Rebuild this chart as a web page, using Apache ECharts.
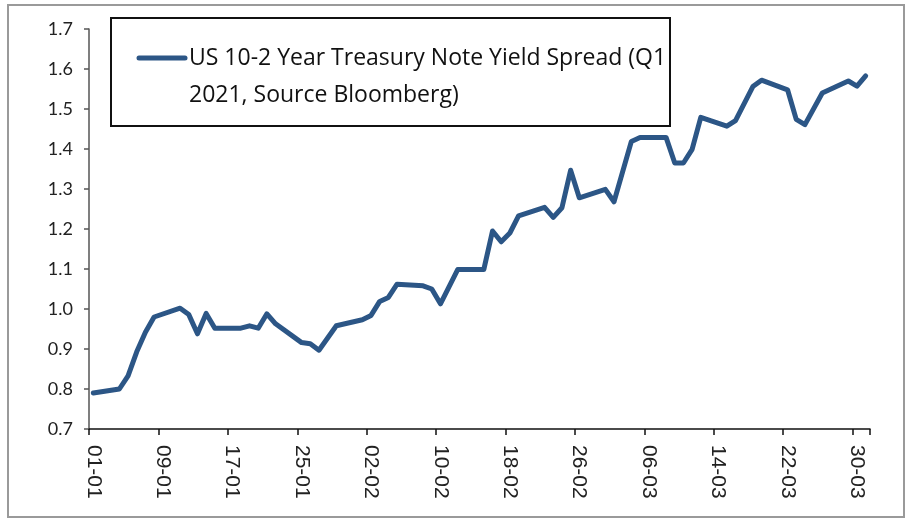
<!DOCTYPE html>
<html>
<head>
<meta charset="utf-8">
<script src="https://cdn.jsdelivr.net/npm/echarts@6/dist/echarts.min.js"></script>
<style>
html,body{margin:0;padding:0;background:#fff;}
#chart{width:909px;height:520px;}
</style>
</head>
<body>
<div id="chart"></div>
<script>
// Trading dates (dd-mm, 2021) and the 10-2 spread values
var tradeDates = ['01-01','04-01','05-01','06-01','07-01','08-01','11-01','12-01','13-01','14-01','15-01',
  '18-01','19-01','20-01','21-01','22-01','25-01','26-01','27-01','29-01',
  '01-02','02-02','03-02','04-02','05-02','08-02','09-02','10-02','12-02','15-02','16-02','17-02','18-02','19-02',
  '22-02','23-02','24-02','25-02','26-02',
  '01-03','02-03','04-03','05-03','08-03','09-03','10-03','11-03','12-03','15-03','16-03','18-03','19-03',
  '22-03','23-03','24-03','26-03','29-03','30-03','31-03'];
var spreadValues = [0.790,0.800,0.833,0.893,0.942,0.980,1.002,0.986,0.938,0.989,0.952,
  0.952,0.958,0.952,0.988,0.963,0.916,0.913,0.897,0.958,
  0.973,0.984,1.019,1.029,1.062,1.058,1.050,1.013,1.099,1.099,1.195,1.168,1.190,1.233,
  1.254,1.229,1.253,1.347,1.278,
  1.299,1.268,1.419,1.429,1.429,1.365,1.365,1.399,1.479,1.457,1.471,1.556,1.572,
  1.548,1.474,1.461,1.540,1.570,1.557,1.583];
var seriesName = 'US 10-2 Year Treasury Note Yield Spread (Q1 2021, Source Bloomberg)';
var legendLine1 = 'US 10-2 Year Treasury Note Yield Spread (Q1';
var legendLine2 = '2021, Source Bloomberg)';
var yTicks = [0.7, 0.8, 0.9, 1.0, 1.1, 1.2, 1.3, 1.4, 1.5, 1.6, 1.7];

// Calendar days of Q1 2021 (date-axis slots)
var monthDays = [31, 28, 31];
var allDays = [];
for (var m = 0; m < 3; m++) {
  for (var d = 1; d <= monthDays[m]; d++) {
    allDays.push((d < 10 ? '0' : '') + d + '-0' + (m + 1));
  }
}
var valMap = {};
tradeDates.forEach(function (t, i) { valMap[t] = spreadValues[i]; });
var lineData = allDays.map(function (t) { return valMap.hasOwnProperty(t) ? valMap[t] : null; });

var chart = echarts.init(document.getElementById('chart'), null, {renderer: 'canvas'});
var lineColor = '#2c5686';
chart.setOption({
  animation: false,
  backgroundColor: '#fff',
  grid: {left: 89, right: 39, top: 29, bottom: 91, containLabel: false},
  xAxis: {
    type: 'category',
    data: allDays,
    boundaryGap: true,
    axisLine: {show: true, lineStyle: {color: '#111', width: 1.5}},
    axisTick: {show: true, interval: function (i) { return i % 8 === 0; }, length: 6, lineStyle: {color: '#111', width: 1.5}},
    axisLabel: {interval: 7, rotate: -90, margin: 16, fontFamily: 'Liberation Sans', fontSize: 21, color: '#222'},
    splitLine: {show: false}
  },
  yAxis: {
    type: 'value',
    min: yTicks[0],
    max: yTicks[yTicks.length - 1],
    interval: 0.1,
    axisLine: {show: true, lineStyle: {color: '#555', width: 1.5}},
    axisTick: {show: true, length: 5, lineStyle: {color: '#555', width: 1.5}},
    axisLabel: {margin: 16, fontFamily: 'Lato', fontSize: 18, color: '#222',
      formatter: function (v) { return v.toFixed(1); }},
    splitLine: {show: false}
  },
  series: [{
    name: seriesName,
    type: 'line',
    data: lineData,
    connectNulls: true,
    showSymbol: false,
    symbol: 'none',
    lineStyle: {color: lineColor, width: 5, cap: 'round', join: 'round'},
    z: 3
  }],
  graphic: [
    {type: 'rect', silent: true, z: 0, shape: {x: 8, y: 5, width: 896, height: 512},
      style: {fill: null, stroke: '#9a9a9a', lineWidth: 2}},
    {type: 'rect', silent: true, z: 10, shape: {x: 111, y: 18, width: 559, height: 108},
      style: {fill: '#fff', stroke: '#111', lineWidth: 2}},
    {type: 'line', silent: true, z: 11, shape: {x1: 139, y1: 58, x2: 185, y2: 58},
      style: {stroke: lineColor, lineWidth: 5, lineCap: 'round'}},
    {type: 'text', silent: true, z: 11, x: 189, y: 58,
      style: {text: legendLine1, fontFamily: 'Open Sans', fontSize: 23, fill: '#111', textVerticalAlign: 'middle', verticalAlign: 'middle'}},
    {type: 'text', silent: true, z: 11, x: 189, y: 95,
      style: {text: legendLine2, fontFamily: 'Open Sans', fontSize: 23, fill: '#111', textVerticalAlign: 'middle', verticalAlign: 'middle'}}
  ]
});
</script>
</body>
</html>
